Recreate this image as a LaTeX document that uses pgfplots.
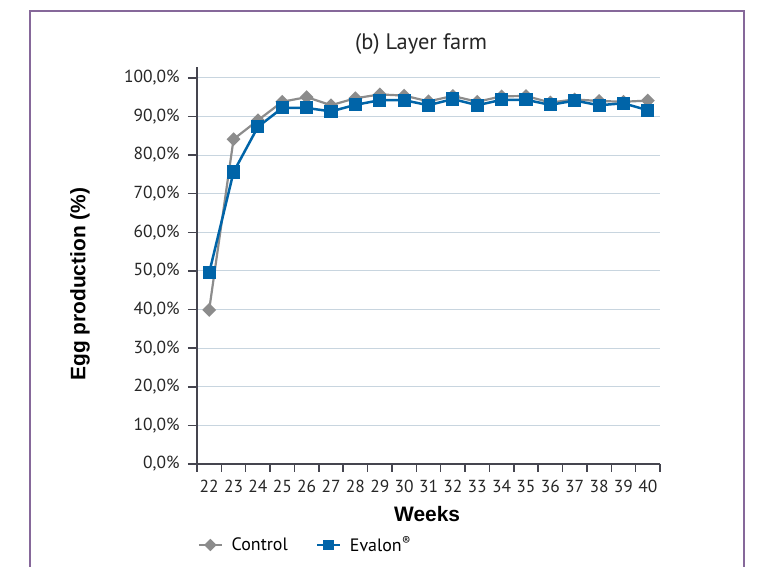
\documentclass[border=0pt]{standalone}
\usepackage{fontspec}
\setmainfont{PT Sans}
\newfontfamily\labfont{Liberation Sans}
\usepackage{pgfplots}
\pgfplotsset{compat=1.18}
\definecolor{ctrlgray}{HTML}{8C8C8C}
\definecolor{evblue}{HTML}{0064A8}
\definecolor{gridc}{HTML}{C8D5DF}
\definecolor{axisc}{HTML}{45454F}
\definecolor{framec}{HTML}{86689A}
\begin{document}
\begin{tikzpicture}
\useasboundingbox (0,0) rectangle (760bp,567bp);
\draw[framec, line width=2bp] (30bp,-5bp) -- (30bp,556bp) -- (744bp,556bp) -- (744bp,-5bp);
\begin{axis}[
  at={(197bp,103bp)}, anchor=south west,
  scale only axis, width=463bp, height=397bp,
  xmin=21.5, xmax=40.5, ymin=0, ymax=102.8,
  axis x line*=bottom, axis y line*=left,
  axis line style={axisc, line width=2bp},
  tick align=outside,
  major tick length=9bp, minor tick length=8bp,
  every tick/.style={axisc, line width=1.5bp},
  major x tick style={draw=none},
  xtick={22,...,40},
  xticklabels={22,23,24,25,26,27,28,29,30,31,32,33,34,35,36,37,38,39,40},
  minor xtick={21.5,22.5,...,40.5},
  ytick={0,10,...,100},
  yticklabels={{0,0\%},{10,0\%},{20,0\%},{30,0\%},{40,0\%},{50,0\%},{60,0\%},{70,0\%},{80,0\%},{90,0\%},{100,0\%}},
  ymajorgrids, grid style={gridc, line width=1bp},
  ticklabel style={font=\fontsize{17.5}{20}\selectfont, text=black!85},
  yticklabel style={xshift=-5bp},
  xticklabel style={yshift=-4bp},
  every axis title shift=0pt,
  title={(b) Layer farm},
  title style={at={(axis description cs:0.484,1.058)}, anchor=center, font=\fontsize{22.5}{26}\selectfont, text=black!85},
  xlabel={Weeks}, ylabel={Egg production (\%)},
  xlabel style={at={(axis description cs:0.497,-0.126)}, anchor=center, font=\fontsize{21}{24}\labfont\bfseries},
  ylabel style={at={(axis description cs:-0.2527,0.453)}, anchor=center, rotate=0, font=\fontsize{21}{24}\labfont\bfseries},
  legend columns=2,
  legend style={draw=none, fill=none, at={(axis description cs:-0.005,-0.204)}, anchor=west,
    font=\fontsize{18}{20}\selectfont,
    /tikz/every odd column/.append style={column sep=7bp},
    /tikz/every even column/.append style={column sep=26bp}},
  legend image code/.code={\draw[mark repeat=2,mark phase=2] plot coordinates {(0cm,0cm) (0.4cm,0cm) (0.8cm,0cm)};},
  clip=false,
]
\addplot[ctrlgray, line width=2.2bp, mark=square*, mark size=3.8bp, mark options={rotate=45, solid, fill=ctrlgray, draw=ctrlgray},
  legend image post style={mark size=3.3bp}]
coordinates {(22,39.9) (23,84.1) (24,89.0) (25,93.8) (26,95.0) (27,92.9) (28,94.7) (29,95.7) (30,95.4) (31,93.9) (32,95.3) (33,93.8) (34,95.2) (35,95.3) (36,93.6) (37,94.4) (38,94.0) (39,93.8) (40,94.1)};
\addlegendentry{Control}
\addplot[evblue, line width=2.5bp, mark=square*, mark size=5.3bp, mark options={solid, fill=evblue, draw=evblue},
  legend image post style={mark size=4.1bp}]
coordinates {(22,49.5) (23,75.6) (24,87.3) (25,92.2) (26,92.2) (27,91.3) (28,93.0) (29,94.2) (30,94.2) (31,92.9) (32,94.5) (33,92.9) (34,94.3) (35,94.3) (36,93.0) (37,94.1) (38,92.9) (39,93.4) (40,91.6)};
\addlegendentry{Evalon\textsuperscript{®}}
\end{axis}
\end{tikzpicture}
\end{document}
